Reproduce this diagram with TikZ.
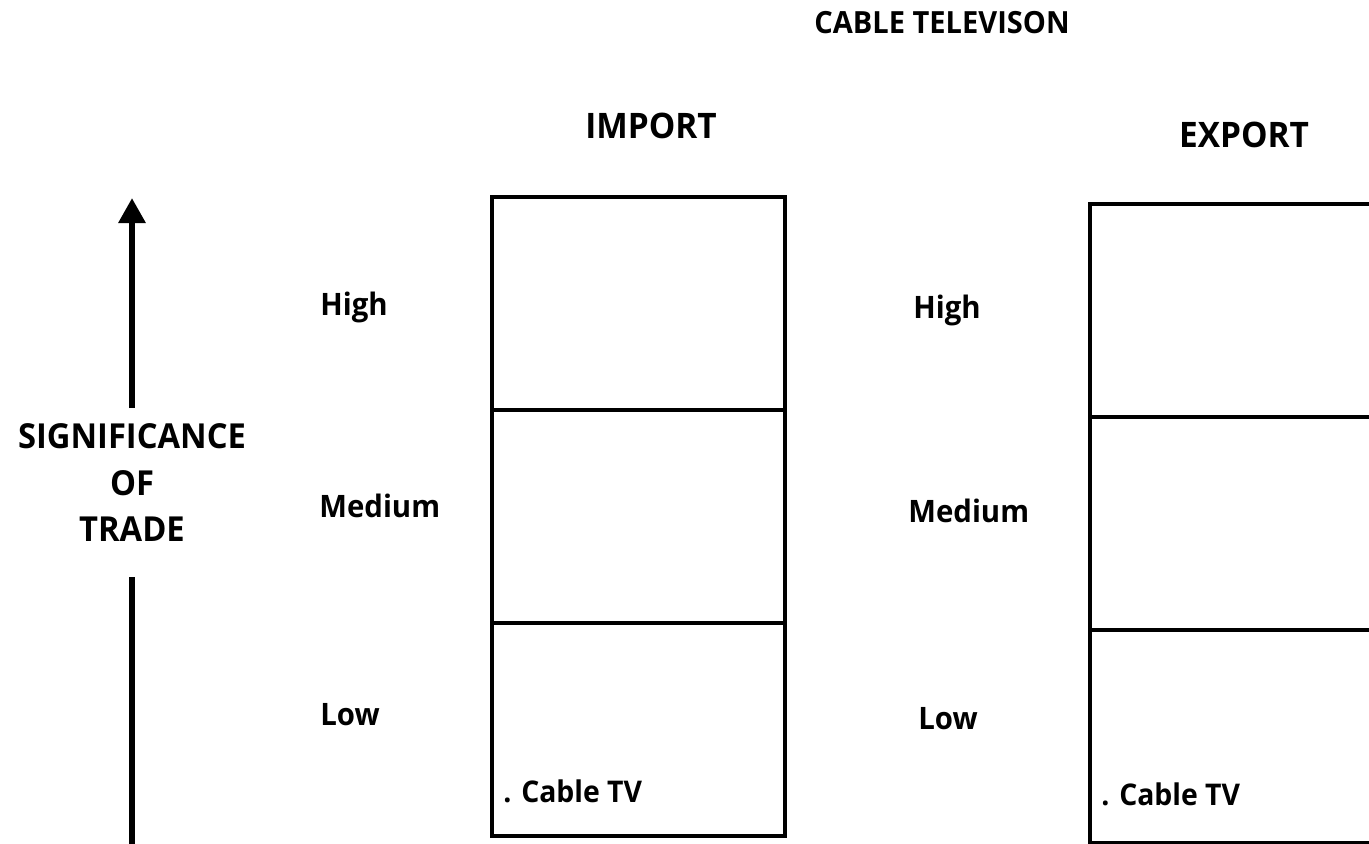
\documentclass[tikz,border=0pt]{standalone}
\usepackage{fontspec}
\setmainfont{Open Sans}[BoldFeatures={FakeStretch=0.95}]
\usetikzlibrary{arrows.meta, positioning}

\begin{document}
\begin{tikzpicture}[
    x=0.02cm, y=-0.02cm,
    cell/.style={
        rectangle, draw, line width=0.08cm, outer sep=0pt,
        minimum width=5.86cm, minimum height=4.26cm, inner sep=0pt
    },
    lbl/.style={anchor=base west, inner sep=0pt, font=\fontsize{17.6}{21}\selectfont\bfseries},
    head/.style={anchor=base, inner sep=0pt, font=\fontsize{20}{24}\selectfont\bfseries},
    trend/.style={line width=0.12cm},
]
\clip (0,0) rectangle (1369,843);
\useasboundingbox (0,0) rectangle (1369,843);

%% Title and column heads
\node[head, font=\fontsize{17.4}{21}\selectfont\bfseries] (title) at (942,33) {CABLE TELEVISON};
\node[head] (imphead) at (651,138) {IMPORT};
\node[head] (exphead) at (1244,147) {EXPORT};

%% Axis: significance of trade
\node[font=\fontsize{19.6}{26.6}\selectfont\bfseries, align=center, inner sep=0.3cm, anchor=north] (sig) at (132,408)
    {SIGNIFICANCE\\OF\\TRADE};
\coordinate (axbase) at (132,850);
\coordinate (axtip) at (132,198);
\draw[trend] (axbase) -- ([yshift=-0.4cm]sig.south);
\draw[trend, -{Triangle[length=0.5cm, width=0.52cm]}] (sig.north) -- (axtip);

%% Import column
\node[cell, anchor=north west] (ihigh) at (492,197) {};
\node[cell, below=0pt of ihigh] (imed) {};
\node[cell, below=0pt of imed] (ilow) {};

%% Export column
\node[cell, anchor=north west] (ehigh) at (1090,204) {};
\node[cell, below=0pt of ehigh] (emed) {};
\node[cell, below=0pt of emed] (elow) {};

%% Level labels
\node[lbl] (ihl) at (320,315) {High};
\node[lbl] (iml) at (319,517) {Medium};
\node[lbl] (ill) at (320,725) {Low};
\node[lbl] (ehl) at (913,318) {High};
\node[lbl] (eml) at (908,522) {Medium};
\node[lbl] (ell) at (918,729) {Low};

%% Entries
\node[lbl, font=\fontsize{17}{21}\selectfont\bfseries] (itv) at (503,802) {. Cable TV};
\node[lbl, font=\fontsize{17}{21}\selectfont\bfseries] (etv) at (1101,805) {. Cable TV};

\end{tikzpicture}
\end{document}
